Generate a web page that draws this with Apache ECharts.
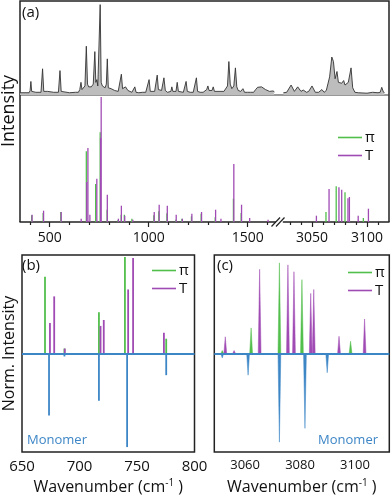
<!DOCTYPE html>
<html lang="en">
  <head>
    <meta charset="UTF-8" />
    <title>IR spectra</title>
    <style>
      html, body { margin: 0; padding: 0; background: #fff; }
      .box { width: 392px; height: 500px; }
    </style>
  </head>
  <body>
    <div class="box"></div>
    <script src="https://cdn.jsdelivr.net/npm/echarts@6/dist/echarts.min.js"></script>
    <script>
// ---- panel (a), top: measured spectrum [wavenumber, intensity]
var specLow = [
  [350,2.5],[396,2.5],[401,5],[405,15],[409,4],[414,2.5],[430,3],[440,2.5],[456,3],[464,29],[470,4],[478,3],
  [490,4],[500,3],[520,3],[530,2.5],[544,3],[552,27],[558,4],[565,2.5],[600,2.5],[630,3],[645,3],[652,6],
  [658,14],[663,6],[670,8],[678,10],[685,54],[691,12],[697,9],[702,8],[710,9],[720,12],[728,48],[733,14],
  [738,17],[743,10],[748,11],[755,100],[760,14],[766,10],[771,11],[775,10],[780,8],[786,12],[791,40],[796,8],
  [802,6],[810,7],[820,8],[828,5],[836,4],[846,4],[855,6],[862,23],[868,7],[875,8],[883,9],[889,9],[895,5],
  [905,3],[915,3],[924,4],[930,9],[936,3],[950,2.5],[970,3],[985,3],[994,5],[1002,17],[1008,4],[1015,3],
  [1030,4],[1037,6],[1043,22],[1049,6],[1055,4],[1065,5],[1070,7],[1077,19],[1084,5],[1095,3],[1105,3],
  [1112,4],[1117,9],[1122,4],[1130,3],[1138,4],[1144,14],[1150,4],[1160,3],[1175,3],[1183,5],[1189,15],
  [1195,4],[1210,3],[1225,3],[1234,5],[1241,19],[1247,4],[1260,3],[1275,3],[1285,4],[1293,6],[1299,10],
  [1305,5],[1312,5],[1320,5],[1326,9],[1332,4],[1345,4],[1360,4],[1370,6],[1380,4],[1390,5],[1398,10],
  [1405,37],[1412,12],[1420,7],[1430,10],[1438,30],[1445,9],[1452,5],[1465,4],[1476,7],[1484,3],[1500,3],
  [1515,3],[1530,3],[1540,6],[1550,8.5],[1560,8],[1570,9],[1580,8],[1590,6],[1600,4],[1610,4],[1620,3],
  [1630,4.5],[1634,3]
];
var specHigh = [
  [3024,2.5],[3027,3],[3031,11],[3034,4],[3037,9],[3040,4],[3042,5.5],[3045,3],[3047,4],[3050,10],[3053,3],
  [3056,3],[3059,6],[3061,3],[3063,5],[3066,20],[3068,42],[3069.5,37],[3071,18],[3072.7,26],[3074,14],
  [3075,12],[3077,13],[3078.8,16],[3080,11],[3081,11],[3083,14],[3085.5,30],[3087,8],[3089,3],[3092,2.5],
  [3100,2],[3105,3],[3110,2.5],[3112,3],[3113.4,8.5],[3115,3],[3116,2.5]
];

// ---- panel (a), bottom: calculated sticks [wavenumber, intensity]
var piLow = [
  [409,6.7],[467,9],[556,10],[685,70.7],[732,38],[755,89.7],[790,12.3],[845,2],[861,7.3],[877,7.3],
  [915,3.3],[1026,6.7],[1051,10.7],[1092,8.7],[1137,2.3],[1168,3.3],[1216,5.7],[1265,8.3],[1336,4.7],
  [1428,23.3],[1467,9]
];
var tLow = [
  [411,7.3],[469,11.3],[558,10],[659,3.3],[687,40],[693,74],[703,7.3],[738,43.3],[757,84],[760,125],
  [791,27.3],[847,3.3],[862,16.3],[879,6.3],[920,2.3],[1028,10],[1053,17.3],[1094,16.3],[1139,7.3],
  [1170,3.3],[1218,8.3],[1267,10],[1338,12.3],[1365,3.3],[1430,58],[1469,17.3],[1510,4],[1603,2.3]
];
var piHigh = [[3062.7,10],[3072,35.7],[3080,29.7],[3096.7,4]];
var tHigh = [[3054,6.3],[3065.5,33],[3074.5,34.7],[3077,32.3],[3082.7,23.7],[3084,25],[3092,6.3],[3101.3,13.3]];

// ---- panel (b): normalised sticks
var piB = [[670,0.78],[686.9,0.05],[716.9,0.42],[739.5,0.98],[775.4,0.15]];
var tB = [[674.3,0.31],[678,0.58],[687.2,0.05],[718.3,0.28],[721.1,0.34],[742.3,0.65],[746.6,0.97],[773.4,0.21]];
var monoB = [[673.5,-0.63],[686.9,-0.03],[716.9,-0.48],[741.4,-0.95],[775.4,-0.22]];

// ---- panel (c): normalised peaks
var piC = [[3051.7,0.03],[3062.2,0.26],[3072.5,0.92],[3080.7,0.75],[3098.4,0.125]];
var tC = [[3052.8,0.17],[3056,0.03],[3065.3,0.855],[3075.6,0.9],[3077.8,0.83],[3083.9,0.61],[3085,0.65],[3094.2,0.175],[3103.5,0.35]];
var monoC = [[3051.7,-0.045],[3061.1,-0.22],[3072.5,-0.9],[3081.8,-0.76],[3089.9,-0.195]];

// tick positions
var ticksLowMajor = [500, 1000, 1500];
var ticksLowMinor = [400, 600, 700, 800, 900, 1100, 1200, 1300, 1400, 1600];
var ticksHighMajor = [3050, 3100];
var ticksHighMinor = [3030, 3040, 3060, 3070, 3080, 3090, 3110];
var ticksB = [650, 700, 750, 800];
var ticksC = [3060, 3080, 3100];

var GREEN = '#52bf4c';
var PURPLE = '#a04bb4';
var BLUE = '#3d86c6';
var FONT = 'Open Sans';

var myChart = echarts.init(document.querySelector('.box'));

function plain(v) { return String(v); }

function stick(w) {
  return function (params, api) {
    var b = api.coord([api.value(0), 0]);
    var t = api.coord([api.value(0), api.value(1)]);
    return {
      type: 'line',
      shape: { x1: b[0], y1: b[1], x2: t[0], y2: t[1] },
      style: { stroke: api.visual('color'), lineWidth: w }
    };
  };
}
function spike(params, api) {
  var b = api.coord([api.value(0), 0]);
  var t = api.coord([api.value(0), api.value(1)]);
  return {
    type: 'polygon',
    shape: { points: [[b[0] - 1.4, b[1]], [t[0], t[1]], [b[0] + 1.4, b[1]]] },
    style: { fill: api.visual('color'), stroke: api.visual('color'), lineWidth: 0.5 }
  };
}
function sticks(name, data, color, xi, yi, render) {
  return {
    name: name, type: 'custom', xAxisIndex: xi, yAxisIndex: yi,
    data: data, renderItem: render, itemStyle: { color: color }, clip: true, silent: true
  };
}
function hiddenX(grid, min, max) {
  return { type: 'value', gridIndex: grid, min: min, max: max, show: false };
}
function hiddenY(grid, min, max) {
  return {
    type: 'value', gridIndex: grid, min: min, max: max,
    axisLine: { show: false }, axisTick: { show: false }, axisLabel: { show: false }, splitLine: { show: false }
  };
}
function tickX(grid, min, max, vals, len, labels) {
  return {
    type: 'value', gridIndex: grid, min: min, max: max, position: 'bottom',
    axisLine: { show: labels, lineStyle: { color: '#222', width: 1.5 } },
    axisTick: { show: true, customValues: vals, length: len, lineStyle: { color: '#222', width: 1.2 } },
    axisLabel: labels ? { customValues: vals, formatter: plain, color: '#111', fontSize: 14, fontFamily: FONT, margin: 9 } : { show: false },
    splitLine: { show: false }
  };
}
function boxX(grid, min, max, vals, fs) {
  return {
    type: 'value', gridIndex: grid, min: min, max: max,
    name: 'Wavenumber (cm{sup|-1} )', nameLocation: 'middle', nameGap: 26,
    nameTextStyle: {
      fontSize: 16, fontFamily: FONT, color: '#111',
      rich: { sup: { fontSize: 10, fontFamily: FONT, color: '#111', padding: [0, 0, 9, 0] } }
    },
    axisLine: { show: false }, axisTick: { show: false },
    axisLabel: { customValues: vals, formatter: plain, showMinLabel: true, showMaxLabel: true, color: '#111', fontSize: fs, fontFamily: FONT, margin: 7 },
    splitLine: { show: false }
  };
}
function legendAt(left, top) {
  return {
    left: left, top: top, orient: 'vertical', data: ['π', 'T'], icon: 'rect',
    itemWidth: 24, itemHeight: 1.6, itemGap: 3, selectedMode: false,
    textStyle: { fontSize: 15, fontFamily: FONT, color: '#111', padding: [0, 0, 0, -2] }
  };
}
function label(text, x, y, extra) {
  var st = { text: text, fontSize: 15, fontFamily: FONT, fill: '#111', align: 'left', verticalAlign: 'middle' };
  for (var k in extra) st[k] = extra[k];
  return { type: 'text', x: x, y: y, style: st, silent: true };
}
var boxGrid = { show: true, borderColor: '#222', borderWidth: 1.5, backgroundColor: 'transparent' };
var baseLine = {
  silent: true, symbol: 'none', label: { show: false },
  lineStyle: { color: BLUE, width: 2, type: 'solid' }, data: [{ yAxis: 0 }]
};

var option = {
  animation: false,
  grid: [
    { left: 20, top: 1, width: 255.4, height: 94 },
    { left: 283.4, top: 1, width: 105.6, height: 94 },
    { left: 20, top: 95, width: 255.4, height: 127 },
    { left: 283.4, top: 95, width: 105.6, height: 127 },
    Object.assign({ left: 19.5, top: 255, width: 175, height: 197 }, boxGrid),
    Object.assign({ left: 214.3, top: 255, width: 175, height: 197 }, boxGrid)
  ],
  xAxis: [
    hiddenX(0, 350, 1640),
    hiddenX(1, 3024, 3120),
    tickX(2, 350, 1640, ticksLowMajor, 5, true),
    tickX(3, 3024, 3120, ticksHighMajor, 5, true),
    tickX(2, 350, 1640, ticksLowMinor, 3, false),
    tickX(3, 3024, 3120, ticksHighMinor, 3, false),
    boxX(4, 650, 800, ticksB, 15),
    boxX(5, 3048.8, 3112.5, ticksC, 13)
  ],
  yAxis: [
    hiddenY(0, 0, 104),
    hiddenY(1, 0, 104),
    hiddenY(2, 0, 127),
    hiddenY(3, 0, 127),
    Object.assign(hiddenY(4, -1, 1), {
      name: 'Norm. Intensity', nameLocation: 'middle', nameGap: 5,
      nameTextStyle: { fontSize: 16, fontFamily: FONT, color: '#111' }
    }),
    hiddenY(5, -1, 1)
  ],
  legend: [legendAt(333, 125), legendAt(147, 258), legendAt(343, 260)],
  graphic: [
    { type: 'polyline', shape: { points: [[20, 222], [20, 1], [389, 1], [389, 222]] }, style: { stroke: '#222', lineWidth: 1.5, fill: null }, silent: true },
    { type: 'line', shape: { x1: 20, y1: 95, x2: 389, y2: 95 }, style: { stroke: '#333', lineWidth: 1 }, silent: true },
    { type: 'line', shape: { x1: 271.5, y1: 226.5, x2: 280, y2: 217.5 }, style: { stroke: '#222', lineWidth: 1.2 }, silent: true },
    { type: 'line', shape: { x1: 276, y1: 226.5, x2: 284.5, y2: 217.5 }, style: { stroke: '#222', lineWidth: 1.2 }, silent: true },
    label('(a)', 22, 13),
    label('(b)', 22, 266),
    label('(c)', 217, 266),
    Object.assign(label('Intensity', 9, 111, { fontSize: 18, align: 'center' }), { rotation: Math.PI / 2 }),
    label('Monomer', 27, 440, { fontSize: 13, fill: BLUE }),
    label('Monomer', 378, 440, { fontSize: 13, fill: BLUE, align: 'right' })
  ],
  series: [
    {
      type: 'line', xAxisIndex: 0, yAxisIndex: 0, data: specLow, showSymbol: false, silent: true,
      lineStyle: { color: '#333', width: 0.9 }, areaStyle: { color: '#bdbdbd', opacity: 1 }
    },
    {
      type: 'line', xAxisIndex: 1, yAxisIndex: 1, data: specHigh, showSymbol: false, silent: true,
      lineStyle: { color: '#333', width: 0.9 }, areaStyle: { color: '#bdbdbd', opacity: 1 }
    },
    sticks('π', piLow, GREEN, 2, 2, stick(1.3)),
    sticks('T', tLow, PURPLE, 2, 2, stick(1.3)),
    sticks('π', piHigh, GREEN, 3, 3, stick(1.3)),
    sticks('T', tHigh, PURPLE, 3, 3, stick(1.3)),
    Object.assign(sticks('Monomer', monoB, BLUE, 6, 4, stick(1.8)), { markLine: baseLine }),
    sticks('π', piB, GREEN, 6, 4, stick(1.8)),
    sticks('T', tB, PURPLE, 6, 4, stick(1.8)),
    Object.assign(sticks('Monomer', monoC, BLUE, 7, 5, spike), { markLine: baseLine }),
    sticks('π', piC, GREEN, 7, 5, spike),
    sticks('T', tC, PURPLE, 7, 5, spike)
  ]
};
myChart.setOption(option);
    </script>
  </body>
</html>
